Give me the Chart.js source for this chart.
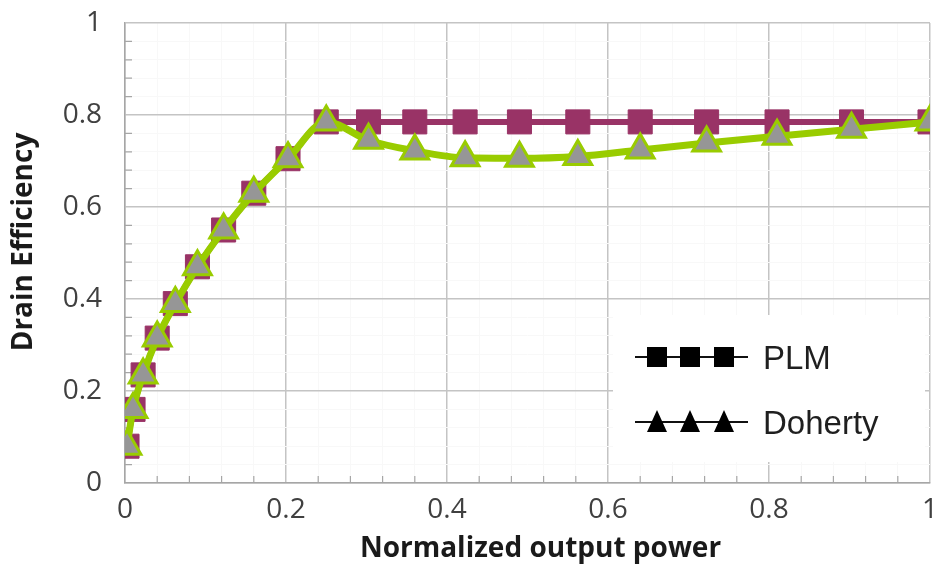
<!DOCTYPE html>
<html>
<head>
<meta charset="utf-8">
<title>Drain efficiency vs normalized output power</title>
<script src="https://cdn.jsdelivr.net/npm/chart.js@4.4.1/dist/chart.umd.min.js"></script>
<style>
  html, body { margin: 0; padding: 0; background: #fff; }
  #wrap { width: 940px; height: 569px; position: relative; }
</style>
</head>
<body>
<div id="wrap"><canvas id="eff"></canvas></div>
<script>
// output power steps, normalized to peak
const powerLevels = [0.0025, 0.01, 0.0225, 0.04, 0.0625, 0.09, 0.1225, 0.16, 0.2025, 0.25,
  0.3025, 0.36, 0.4225, 0.49, 0.5625, 0.64, 0.7225, 0.81, 0.9025, 1.0]

const plmEfficiency = [0.08, 0.16, 0.235, 0.315, 0.39, 0.47, 0.55, 0.63, 0.705, 0.785,
  0.785, 0.785, 0.785, 0.785, 0.785, 0.785, 0.785, 0.785, 0.785, 0.785]

const dohertyEfficiency = [0.08, 0.16, 0.235, 0.315, 0.39, 0.47, 0.55, 0.63, 0.705, 0.785,
  0.745, 0.722, 0.707, 0.706, 0.71, 0.724, 0.739, 0.754, 0.769, 0.785]

const seriesNames = ['PLM', 'Doherty']
const xTitle = 'Normalized output power'
const yTitle = 'Drain Efficiency'

const PLM_COLOR = '#993366'
const DOHERTY_LINE = '#99cc00'
const DOHERTY_FILL = '#969696'
const GRID_MAJOR = '#c4c4c4'
const GRID_MINOR = '#f8f8f8'
const TICK_FONT = { family: "'Open Sans', sans-serif", size: 28 }

const isMajor = v => Math.abs(v * 5 - Math.round(v * 5)) < 1e-6
const fmt = v => String(Math.round(v * 10) / 10)
const toPoints = ys => powerLevels.map((x, i) => ({ x, y: ys[i] }))

// short minor ticks pointing into the plot
const innerTicks = {
  id: 'innerTicks',
  beforeDatasetsDraw (chart) {
    const { ctx, chartArea: a, scales: { x, y } } = chart
    ctx.save()
    ctx.strokeStyle = '#a6a6a6'
    ctx.lineWidth = 1.2
    ctx.beginPath()
    x.ticks.forEach(t => {
      if (isMajor(t.value)) return
      const px = x.getPixelForValue(t.value)
      ctx.moveTo(px, a.bottom); ctx.lineTo(px, a.bottom - 7)
    })
    y.ticks.forEach(t => {
      if (isMajor(t.value)) return
      const py = y.getPixelForValue(t.value)
      ctx.moveTo(a.left, py); ctx.lineTo(a.left + 7, py)
    })
    ctx.stroke()
    ctx.restore()
  }
}

// legend sits in a white box in the lower right of the plot
const boxLegend = {
  id: 'boxLegend',
  afterDatasetsDraw (chart) {
    const { ctx, chartArea: a } = chart
    const left = a.right - 317
    const top = a.top + 292
    ctx.save()
    ctx.fillStyle = '#fff'
    ctx.fillRect(left, top, 312, 147)

    const rows = [{ y: top + 42, style: 'rect' }, { y: top + 107, style: 'triangle' }]
    rows.forEach((row, i) => {
      ctx.strokeStyle = '#111'
      ctx.lineWidth = 2
      ctx.beginPath()
      ctx.moveTo(left + 22, row.y); ctx.lineTo(left + 135, row.y)
      ctx.stroke()
      ctx.fillStyle = '#000'
      ;[44, 77, 111].forEach(dx => {
        const cx = left + dx
        if (row.style === 'rect') {
          ctx.fillRect(cx - 10, row.y - 10, 20, 20)
        } else {
          ctx.beginPath()
          ctx.moveTo(cx, row.y - 12)
          ctx.lineTo(cx + 10, row.y + 10)
          ctx.lineTo(cx - 10, row.y + 10)
          ctx.closePath()
          ctx.fill()
        }
      })
      ctx.fillStyle = '#1f1f1f'
      ctx.font = "33px 'Liberation Sans', Arial, sans-serif"
      ctx.textAlign = 'left'
      ctx.textBaseline = 'alphabetic'
      ctx.fillText(seriesNames[i], left + 150, row.y + 12)
    })
    ctx.restore()
  }
}

const axisTitles = {
  id: 'axisTitles',
  afterDraw (chart) {
    const { ctx, chartArea: a } = chart
    ctx.save()
    ctx.fillStyle = '#1a1a1a'
    ctx.font = "bold 28px 'Open Sans', sans-serif"
    ctx.textAlign = 'center'
    ctx.textBaseline = 'middle'
    ctx.fillText(xTitle, (a.left + a.right) / 2 + 13, 549)
    ctx.translate(24, (a.top + a.bottom) / 2 - 11)
    ctx.rotate(-Math.PI / 2)
    ctx.fillText(yTitle, 0, 0)
    ctx.restore()
  }
}

const gridOpts = {
  drawTicks: false,
  color: c => (c.tick && isMajor(c.tick.value)) ? GRID_MAJOR : GRID_MINOR,
  lineWidth: c => (c.tick && isMajor(c.tick.value)) ? 1.5 : 1
}

new Chart(document.getElementById('eff'), {
  type: 'line',
  data: {
    datasets: [
      {
        label: seriesNames[0],
        data: toPoints(plmEfficiency),
        borderColor: PLM_COLOR,
        backgroundColor: PLM_COLOR,
        borderWidth: 6,
        cubicInterpolationMode: 'monotone',
        pointStyle: 'rect',
        pointRadius: 17,
        pointBorderWidth: 1,
        pointBorderColor: PLM_COLOR,
        pointBackgroundColor: PLM_COLOR,
        order: 2
      },
      {
        label: seriesNames[1],
        data: toPoints(dohertyEfficiency),
        borderColor: DOHERTY_LINE,
        backgroundColor: DOHERTY_FILL,
        borderWidth: 7,
        cubicInterpolationMode: 'monotone',
        pointStyle: 'triangle',
        pointRadius: 16,
        pointBorderWidth: 3,
        pointBorderColor: DOHERTY_LINE,
        pointBackgroundColor: DOHERTY_FILL,
        order: 1
      }
    ]
  },
  options: {
    responsive: true,
    maintainAspectRatio: false,
    animation: false,
    layout: { autoPadding: false, padding: { top: 23, right: 10, left: 0, bottom: 0 } },
    plugins: { legend: { display: false }, tooltip: { enabled: false } },
    scales: {
      x: {
        type: 'linear',
        min: 0,
        max: 1,
        // fixed axis band; edge labels may hang past the plot
        afterFit: s => { s.height = 86; s.paddingLeft = 0; s.paddingRight = 0 },
        ticks: {
          stepSize: 0.04,
          autoSkip: false,
          maxRotation: 0,
          padding: 10,
          color: '#404040',
          font: TICK_FONT,
          callback: v => isMajor(v) ? fmt(v) : ''
        },
        grid: gridOpts,
        border: { color: '#a6a6a6', width: 1.5 }
      },
      y: {
        min: 0,
        max: 1,
        afterFit: s => { s.width = 125; s.paddingTop = 0; s.paddingBottom = 0 },
        ticks: {
          stepSize: 0.04,
          autoSkip: false,
          padding: 23,
          color: '#404040',
          font: TICK_FONT,
          callback: v => isMajor(v) ? fmt(v) : ''
        },
        grid: gridOpts,
        border: { color: '#a6a6a6', width: 1.5 }
      }
    }
  },
  plugins: [innerTicks, boxLegend, axisTitles]
})
</script>
</body>
</html>
